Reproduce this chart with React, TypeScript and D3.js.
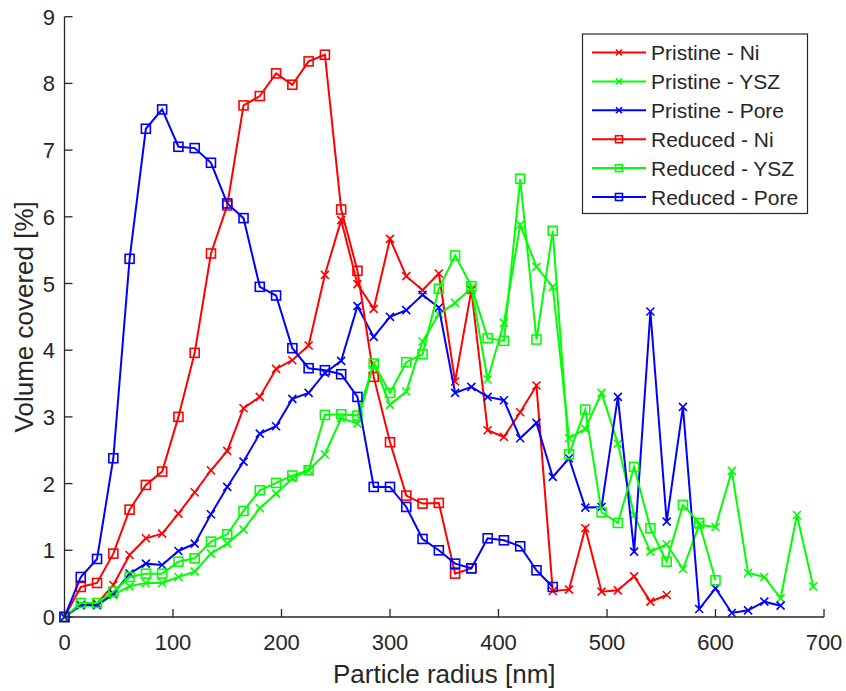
import React from "react";
import * as d3 from "d3";

// particle radius grid [nm]
const radius = [
  0, 15, 30, 45, 60, 75, 90, 105, 120, 135, 150, 165, 180, 195, 210, 225, 240,
  255, 270, 285, 300, 315, 330, 345, 360, 375, 390, 405, 420, 435, 450, 465,
  480, 495, 510, 525, 540, 555, 570, 585, 600, 615, 630, 645, 660, 675, 690,
];

const pristineNi = [
  0, 0.18, 0.2, 0.48, 0.93, 1.18, 1.25, 1.55, 1.87, 2.2, 2.49, 3.13, 3.3, 3.72,
  3.85, 4.07, 5.13, 5.95, 4.99, 4.62, 5.67, 5.11, 4.9, 5.15, 3.53, 4.9, 2.8,
  2.7, 3.07, 3.47, 0.39, 0.41, 1.33, 0.38, 0.4, 0.61, 0.23, 0.33,
];
const pristineYSZ = [
  0, 0.17, 0.17, 0.33, 0.46, 0.51, 0.51, 0.6, 0.68, 0.95, 1.1, 1.31, 1.63,
  1.85, 2.08, 2.2, 2.44, 2.98, 2.9, 3.8, 3.18, 3.38, 4.13, 4.54, 4.71, 4.93,
  3.56, 4.41, 5.88, 5.25, 4.95, 2.68, 2.82, 3.36, 2.6, 1.53, 0.98, 1.09, 0.72,
  1.38, 1.35, 2.19, 0.66, 0.6, 0.28, 1.53, 0.46,
];
const pristinePore = [
  0, 0.18, 0.18, 0.35, 0.65, 0.8, 0.78, 0.99, 1.1, 1.54, 1.95, 2.33, 2.75,
  2.86, 3.27, 3.36, 3.66, 3.84, 4.66, 4.2, 4.5, 4.6, 4.83, 4.64, 3.36, 3.45,
  3.3, 3.25, 2.68, 2.91, 2.1, 2.38, 1.64, 1.65, 3.3, 0.98, 4.58, 1.43, 3.15,
  0.12, 0.43, 0.06, 0.1, 0.23, 0.17,
];
const reducedNi = [
  0, 0.45, 0.51, 0.95, 1.61, 1.98, 2.18, 3.0, 3.96, 5.45, 6.17, 7.67, 7.81,
  8.15, 7.98, 8.33, 8.43, 6.11, 5.19, 3.6, 2.62, 1.82, 1.7, 1.71, 0.65, 0.73,
];
const reducedYSZ = [
  0, 0.21, 0.21, 0.38, 0.6, 0.65, 0.65, 0.83, 0.88, 1.13, 1.24, 1.59, 1.9,
  2.01, 2.12, 2.2, 3.03, 3.04, 3.02, 3.8, 3.36, 3.82, 3.94, 4.92, 5.42, 4.96,
  4.18, 4.14, 6.57, 4.16, 5.79, 2.44, 3.11, 1.57, 1.41, 2.25, 1.33, 0.83, 1.68,
  1.41, 0.55,
];
const reducedPore = [
  0, 0.6, 0.87, 2.38, 5.37, 7.32, 7.61, 7.05, 7.03, 6.81, 6.2, 5.98, 4.95,
  4.82, 4.03, 3.73, 3.7, 3.64, 3.3, 1.95, 1.95, 1.65, 1.17, 1.0, 0.8, 0.73,
  1.18, 1.15, 1.06, 0.7, 0.45,
];

const xTicks = [0, 100, 200, 300, 400, 500, 600, 700];
const yTicks = [0, 1, 2, 3, 4, 5, 6, 7, 8, 9];

const series = [
  { name: "Pristine - Ni", values: pristineNi, color: "#ff0000", marker: "x" },
  { name: "Pristine - YSZ", values: pristineYSZ, color: "#00ff00", marker: "x" },
  { name: "Pristine - Pore", values: pristinePore, color: "#0000ff", marker: "x" },
  { name: "Reduced - Ni", values: reducedNi, color: "#ff0000", marker: "s" },
  { name: "Reduced - YSZ", values: reducedYSZ, color: "#00ff00", marker: "s" },
  { name: "Reduced - Pore", values: reducedPore, color: "#0000ff", marker: "s" },
];

const W = 846;
const H = 691;
const axisColor = "#262626";
const font = "'Liberation Sans', Arial, Helvetica, sans-serif";

const Marker = ({ type, x, y, color, size }) => {
  const h = size / 2;
  if (type === "x") {
    return (
      <path
        d={`M${x - h},${y - h}L${x + h},${y + h}M${x - h},${y + h}L${x + h},${y - h}`}
        stroke={color}
        strokeWidth={1.6}
        fill="none"
      />
    );
  }
  return (
    <rect
      x={x - h}
      y={y - h}
      width={size}
      height={size}
      stroke={color}
      strokeWidth={1.6}
      fill="none"
    />
  );
};

export default function App() {
  const x = d3.scaleLinear().domain([0, 700]).range([64.5, 824]);
  const y = d3.scaleLinear().domain([0, 9]).range([617, 16.7]);

  const line = d3
    .line<number>()
    .x((_, i) => x(radius[i]))
    .y((d) => y(d));

  const legend = { x: 582.5, y: 34, w: 225, h: 179.5 };
  const rowY = (i: number) => 52.5 + i * 28.9;

  return (
    <svg
      width={W}
      height={H}
      style={{ position: "absolute", left: 0, top: 0, background: "#fff" }}
      fontFamily={font}
    >
      <rect width={W} height={H} fill="#fff" />

      {/* data */}
      {series.map((s) => (
        <g key={s.name}>
          <path d={line(s.values) ?? ""} fill="none" stroke={s.color} strokeWidth={2} />
          {s.values.map((v, i) => (
            <Marker
              key={i}
              type={s.marker}
              x={x(radius[i])}
              y={y(v)}
              color={s.color}
              size={s.marker === "x" ? 8 : 9}
            />
          ))}
        </g>
      ))}

      {/* axes */}
      <line x1={x(0)} x2={x(700)} y1={y(0)} y2={y(0)} stroke={axisColor} strokeWidth={1.3} />
      <line x1={x(0)} x2={x(0)} y1={y(0)} y2={y(9)} stroke={axisColor} strokeWidth={1.3} />
      {xTicks.map((t) => (
        <g key={`xt-${t}`}>
          <line x1={x(t)} x2={x(t)} y1={y(0)} y2={y(0) - 8} stroke={axisColor} strokeWidth={1.3} />
          <text x={x(t)} y={650} textAnchor="middle" fontSize={22} fill={axisColor}>
            {t}
          </text>
        </g>
      ))}
      {yTicks.map((t) => (
        <g key={`yt-${t}`}>
          <line x1={x(0)} x2={x(0) + 8} y1={y(t)} y2={y(t)} stroke={axisColor} strokeWidth={1.3} />
          <text x={55} y={y(t) + 8} textAnchor="end" fontSize={22} fill={axisColor}>
            {t}
          </text>
        </g>
      ))}

      <text x={(x(0) + x(700)) / 2} y={683} textAnchor="middle" fontSize={26} fill={axisColor}>
        Particle radius [nm]
      </text>
      <text
        transform={`translate(33, ${(y(0) + y(9)) / 2}) rotate(-90)`}
        textAnchor="middle"
        fontSize={26}
        fill={axisColor}
      >
        Volume covered [%]
      </text>

      {/* legend */}
      <rect
        x={legend.x}
        y={legend.y}
        width={legend.w}
        height={legend.h}
        fill="#fff"
        stroke={axisColor}
        strokeWidth={1.2}
      />
      {series.map((s, i) => (
        <g key={`lg-${s.name}`}>
          <line x1={592} x2={646} y1={rowY(i)} y2={rowY(i)} stroke={s.color} strokeWidth={2} />
          <Marker type={s.marker} x={619} y={rowY(i)} color={s.color} size={s.marker === "x" ? 6 : 7} />
          <text x={651} y={rowY(i) + 7.5} fontSize={21} fill={axisColor}>
            {s.name}
          </text>
        </g>
      ))}
    </svg>
  );
}
